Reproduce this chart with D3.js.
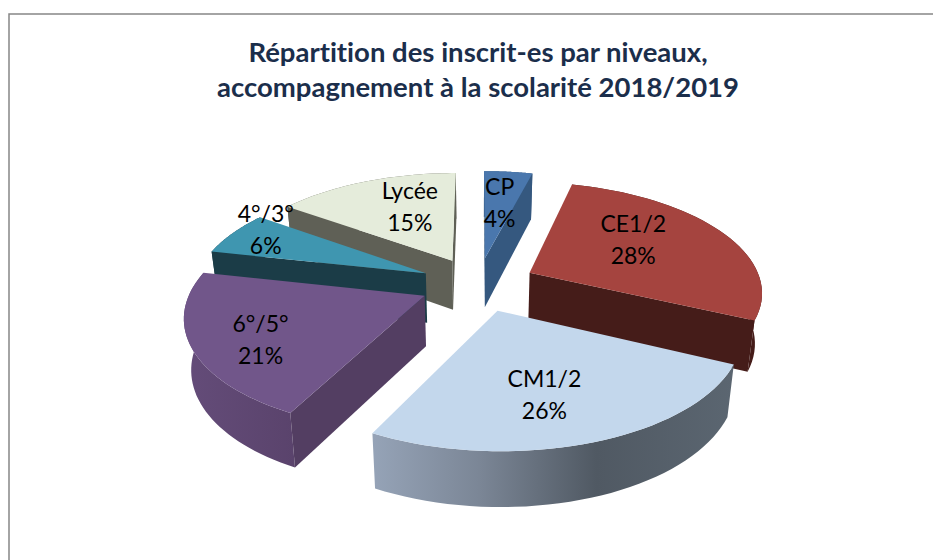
<!DOCTYPE html>
<html>
<head>
  <meta charset="utf-8">
  <title>Répartition des inscrit-es</title>
  <script src="https://d3js.org/d3.v7.min.js"></script>
  <style>
    html, body { margin: 0; padding: 0; background: #fff; }
    svg { display: block; }
    text { font-variant-ligatures: none; }
  </style>
</head>
<body>
  <svg width="933" height="560"></svg>
  <script>
    // data, labels show them rounded
    var niveaux = ["CP", "CE1/2", "CM1/2", "6°/5°", "4°/3°", "Lycée"];
    var valeurs = [4, 28, 25.5, 20.9, 6.49, 15.11];
    var titre = ["Répartition des inscrit-es par niveaux,", "accompagnement à la scolarité 2018/2019"];

    // colours: top, radial wall
    var couleurHaut = ["#4a77ad", "#a5443f", "#c3d7ec", "#71568a", "#3f96b0", "#e5ecdb"];
    var couleurMur = ["#35587f", "#451c19", "#515a64", "#533e62", "#1b3c47", "#5f6056"];
    // nudge of each label from the slice centroid
    var decalage = [[1, -5], [-4, -9], [-2, 18], [-40, 17], [-51, -21], [8, -8]];
    // slices painted far to near
    var ordre = [0, 5, 1, 4, 3, 2];

    var svg = d3.select("svg");

    // frame, open at the right and bottom
    svg.append("path")
      .attr("d", "M9,560V14H933")
      .attr("fill", "none")
      .attr("stroke", "#868686")
      .attr("stroke-width", 1.5);

    // title
    svg.append("g").selectAll("text")
      .data(titre)
      .enter().append("text")
      .attr("x", 478)
      .attr("y", function (d, i) { return 62 + i * 35; })
      .attr("text-anchor", "middle")
      .attr("font-family", "Lato")
      .attr("font-weight", "bold")
      .attr("font-size", 27.5)
      .attr("fill", "#1b2e4b")
      .text(function (d) { return d; });

    // perspective view of the pie plane
    var cx = 478, cy = 284, explode = 0.25;
    var scaleX = 232, scaleY = 108.5, persp = 0.16, depth = 50, shrink = 0.975;

    function project(px, pz) {
      var w = 1 + persp * pz;
      return { x: cx + scaleX * px / w, y: cy - scaleY * pz / w, d: depth / Math.sqrt(w) };
    }

    // point of a slice at angle a, radius r
    function point(s, a, r) {
      var mid = (s.startAngle + s.endAngle) / 2;
      return project(explode * Math.sin(mid) + r * Math.sin(a), explode * Math.cos(mid) + r * Math.cos(a));
    }

    function rimPoints(s) {
      return d3.range(0, 41).map(function (i) {
        return point(s, s.startAngle + (s.endAngle - s.startAngle) * i / 40, 1);
      });
    }

    var line = d3.line()
      .x(function (d) { return d.x; })
      .y(function (d) { return d.y; });

    // same points on the lower plane, which is a bit further from the eye
    function lowered(pts) {
      return pts.map(function (p) {
        return { x: cx + (p.x - cx) * shrink, y: p.y + p.d };
      }).reverse();
    }

    var pie = d3.pie().sort(null);
    var slices = pie(valeurs);

    // shading of the curved sides
    var defs = svg.append("defs");
    function gradient(id, x1, x2, stops) {
      var g = defs.append("linearGradient")
        .attr("id", id)
        .attr("gradientUnits", "userSpaceOnUse")
        .attr("x1", x1).attr("x2", x2).attr("y1", 0).attr("y2", 0);
      stops.forEach(function (st) {
        g.append("stop").attr("offset", st[0]).attr("stop-color", st[1]);
      });
    }
    gradient("rimCM", 370, 735, [[0, "#96a4b8"], [0.3, "#7b8696"], [0.62, "#505963"], [1, "#5b6671"]]);
    gradient("rimSix", 184, 295, [[0, "#644c79"], [1, "#5a436c"]]);

    var couleurRim = [couleurMur[0], couleurMur[1], "url(#rimCM)", "url(#rimSix)", couleurMur[4], couleurMur[5]];

    var parts = svg.append("g").selectAll("g")
      .data(ordre)
      .enter().append("g");

    parts.each(function (i) {
      var s = slices[i], g = d3.select(this);
      var rim = rimPoints(s);
      var apex = point(s, 0, 0);

      // curved side
      g.append("path")
        .attr("d", line(rim.concat(lowered(rim))) + "Z")
        .attr("fill", couleurRim[i]);

      // straight walls, only the ones turned to the viewer
      var inner = point(s, (s.startAngle + s.endAngle) / 2, 0.5);
      [rim[0], rim[rim.length - 1]].forEach(function (end) {
        var ex = end.x - apex.x, ey = end.y - apex.y;
        var side = ex * (inner.y - apex.y) - ey * (inner.x - apex.x);
        if (side * ex > 0) return;
        var pts = [apex, end];
        g.append("path")
          .attr("d", line(pts.concat(lowered(pts))) + "Z")
          .attr("fill", couleurMur[i]);
      });

      // top face
      g.append("path")
        .attr("d", line([apex].concat(rim)) + "Z")
        .attr("fill", couleurHaut[i]);
    });

    // labels
    var labels = svg.append("g").selectAll("text")
      .data(slices)
      .enter().append("text")
      .attr("text-anchor", "middle")
      .attr("font-family", "Lato")
      .attr("font-size", 23)
      .attr("fill", "#000")
      .attr("transform", function (s, i) {
        var p = point(s, (s.startAngle + s.endAngle) / 2, 0.55);
        return "translate(" + (p.x + decalage[i][0]) + "," + (p.y + decalage[i][1]) + ")";
      });
    labels.append("tspan")
      .attr("x", 0).attr("y", -8)
      .text(function (s, i) { return niveaux[i]; });
    labels.append("tspan")
      .attr("x", 0).attr("y", 24)
      .text(function (s) { return Math.round(s.value) + "%"; });
  </script>
</body>
</html>
